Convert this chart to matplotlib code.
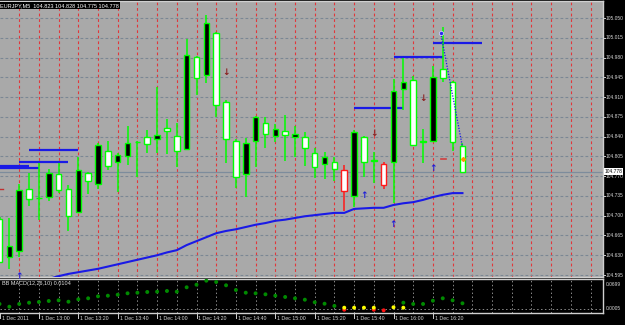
import matplotlib
matplotlib.use('Agg')
import matplotlib.pyplot as plt
from matplotlib.patches import Rectangle

# ---------------- data ----------------
header = "EURJPY,M5  104.823 104.828 104.775 104.778"
opens = [104.694, 104.627, 104.637, 104.747, 104.731, 104.733, 104.774, 104.747, 104.707, 104.776,
         104.756, 104.815, 104.795, 104.806, 104.830, 104.839, 104.836, 104.855, 104.841, 104.818,
         104.981, 104.949, 105.024, 104.901, 104.832, 104.774, 104.832, 104.864, 104.841, 104.850,
         104.839, 104.839, 104.811, 104.792, 104.795, 104.781, 104.735, 104.839, 104.798, 104.792,
         104.795, 104.924, 104.940, 104.832, 104.832, 104.960, 104.937, 104.823]
highs = [104.698, 104.696, 104.756, 104.776, 104.793, 104.783, 104.793, 104.754, 104.804, 104.777,
         104.829, 104.832, 104.811, 104.859, 104.832, 104.852, 104.928, 104.871, 104.864, 105.013,
         104.983, 105.055, 105.025, 104.905, 104.836, 104.838, 104.877, 104.875, 104.862, 104.878,
         104.859, 104.848, 104.820, 104.813, 104.804, 104.790, 104.852, 104.841, 104.813, 104.795,
         104.942, 104.979, 104.947, 104.854, 104.965, 105.034, 104.938, 104.828]
lows = [104.616, 104.606, 104.627, 104.717, 104.692, 104.726, 104.740, 104.673, 104.705, 104.738,
        104.747, 104.781, 104.742, 104.790, 104.768, 104.811, 104.811, 104.809, 104.786, 104.816,
        104.914, 104.935, 104.875, 104.793, 104.749, 104.733, 104.786, 104.820, 104.830, 104.797,
        104.804, 104.788, 104.767, 104.765, 104.761, 104.708, 104.715, 104.768, 104.758, 104.747,
        104.723, 104.887, 104.823, 104.793, 104.830, 104.937, 104.815, 104.775]
closes = [104.618, 104.646, 104.745, 104.730, 104.731, 104.776, 104.745, 104.699, 104.781, 104.761,
          104.825, 104.788, 104.807, 104.829, 104.830, 104.827, 104.843, 104.850, 104.815, 104.985,
          104.944, 105.041, 104.896, 104.836, 104.768, 104.829, 104.875, 104.845, 104.854, 104.843,
          104.845, 104.820, 104.786, 104.804, 104.783, 104.744, 104.848, 104.795, 104.797, 104.754,
          104.921, 104.937, 104.825, 104.830, 104.946, 104.944, 104.830, 104.778]
painted_red = [35, 39]

ma_start = 4
ma_values = [104.583, 104.588, 104.593, 104.597, 104.600, 104.603, 104.606, 104.610, 104.614, 104.618,
             104.622, 104.626, 104.630, 104.635, 104.639, 104.648, 104.655, 104.662, 104.669, 104.673,
             104.676, 104.680, 104.684, 104.687, 104.691, 104.693, 104.696, 104.699, 104.701, 104.703,
             104.705, 104.705, 104.712, 104.713, 104.714, 104.714, 104.719, 104.722, 104.724, 104.728,
             104.733, 104.737, 104.740, 104.740]

# horizontal level segments: (start bar, end bar, price)
level_start = [-1, -1, 2, 3, 36, 40, 44]
level_end = [3, 4, 7, 8, 41, 45, 49]
level_price = [104.788, 104.784, 104.795, 104.816, 104.891, 104.981, 105.006]

down_arrow_bars = [23, 38, 43]
down_arrow_prices = [104.954, 104.846, 104.907]
up_arrow_bars = [2, 37, 40, 44]
up_arrow_prices = [104.593, 104.735, 104.684, 104.784]

zigzag_bars = [44.8, 47]
zigzag_prices = [105.023, 104.822]

price_levels = [104.595, 104.630, 104.665, 104.700, 104.735, 104.770, 104.805,
                104.840, 104.875, 104.910, 104.945, 104.980, 105.015, 105.050]
last_price = 104.778

time_label_bars = [0, 4, 8, 12, 16, 20, 24, 28, 32, 36, 40, 44]
time_labels = ["1 Dec 2011", "1 Dec 13:00", "1 Dec 13:20", "1 Dec 13:40", "1 Dec 14:00",
               "1 Dec 14:20", "1 Dec 14:40", "1 Dec 15:00", "1 Dec 15:20", "1 Dec 15:40",
               "1 Dec 16:00", "1 Dec 16:20"]

macd_values = [0.0118, 0.0050, 0.0118, 0.0150, 0.0168, 0.0193, 0.0210, 0.0175, 0.0235, 0.0260,
               0.0310, 0.0325, 0.0350, 0.0385, 0.0400, 0.0418, 0.0425, 0.0443, 0.0425, 0.0535,
               0.0600, 0.0700, 0.0668, 0.0585, 0.0468, 0.0400, 0.0385, 0.0360, 0.0325, 0.0293,
               0.0260, 0.0225, 0.0160, 0.0125, 0.0070, 0.0025, 0.0025, 0.0025, 0.0025, -0.0040,
               0.0035, 0.0150, 0.0118, 0.0118, 0.0200, 0.0260, 0.0210, 0.0135]
macd_colors = ['g'] * 35 + ['y', 'y', 'y', 'y', 'r', 'y'] + ['g'] * 7
extra_bars = [35, 38, 41]
extra_values = [-0.0025, -0.0025, 0.0025]
extra_colors = ['r', 'r', 'y']

# ---------------- figure ----------------
W, H = 625, 325
FONT = 'Liberation Sans'
fig = plt.figure(figsize=(6.25, 3.25), dpi=100, facecolor='black')
px_per_bar = 9.85
xlo, xhi = 0.5 / px_per_bar, 603.5 / px_per_bar

ax = fig.add_axes([0, 48 / H, 603 / W, 276 / H])
ax.set_facecolor('#a9a9a9')
ax.set_xlim(xlo, xhi)
ax.set_ylim(104.5915, 105.0801)
ax.set_xticks([]); ax.set_yticks([])
for s in ax.spines.values():
    s.set_color('#d0d0d0'); s.set_linewidth(1.0)
ax.spines['left'].set_visible(False)

# grid
for k in range(2, 62, 2):
    ax.axvline(k, color='#e2363a', lw=0.8, ls=(0, (2.5, 2.5)), zorder=1)
for p in price_levels:
    ax.axhline(p, color='#7b8794', lw=0.8, ls=(0, (2.5, 2.0)), zorder=1)
ax.axhline(last_price, color='#7d8c9c', lw=0.9, zorder=1.5)

# MA
ma_x = list(range(ma_start, ma_start + len(ma_values)))
ax.plot(ma_x, ma_values, color='#1a1ae6', lw=1.5, zorder=3)

# levels
for a, b, p in zip(level_start, level_end, level_price):
    ax.plot([a, b], [p, p], color='#1a1ae6', lw=1.6, zorder=3, solid_capstyle='butt')

# candles
bw = 0.56
for k, (o, h, l, c) in enumerate(zip(opens, highs, lows, closes)):
    red = k in painted_red
    edge = '#ff1a1a' if red else '#00ff00'
    ax.plot([k, k], [l, h], color=edge, lw=1.1, zorder=4, solid_capstyle='butt')
    fill = 'black' if (c > o and not red) else 'white'
    lo_b, hi_b = min(o, c), max(o, c)
    ax.add_patch(Rectangle((k - bw / 2, lo_b), bw, max(hi_b - lo_b, 0.0001),
                           facecolor=fill, edgecolor=edge, lw=1.0, zorder=5))

# zigzag line
ax.plot(zigzag_bars, zigzag_prices, color='#1a1ae6', lw=0.9, ls=(0, (1, 1.2)), zorder=6)
ax.plot(zigzag_bars[0], zigzag_prices[0], 'o', ms=3, color='#2a2af0', mec='#e0e0ff', mew=0.5, zorder=7)

# arrows
for k, p in zip(down_arrow_bars, down_arrow_prices):
    ax.text(k, p, '↓', color='#8b1e1e', fontsize=6.5, fontweight='bold', ha='center', va='center', zorder=7)
for k, p in zip(up_arrow_bars, up_arrow_prices):
    ax.text(k, p, '↑', color='#1e1ed8', fontsize=6.5, fontweight='bold', ha='center', va='center', zorder=7)
ax.plot([44.8, 45.3], [104.800, 104.800], color='#d04040', lw=1.2, zorder=6)
ax.plot([47.1], [104.800], marker='D', ms=2, color='#ff9900', zorder=8)
ax.plot([0.05, 0.35], [104.747, 104.747], color='#c03030', lw=1.0, zorder=6)

# right price axis
ytr = ax.get_yaxis_transform()
for p in price_levels:
    ax.plot([1.0, 1.0 + 2 / 603], [p, p], color='#d0d0d0', lw=0.7, transform=ytr, clip_on=False)
    ax.text(1.0 + 3 / 603, p, f"{p:.3f}", transform=ytr, color='#d8d8d8', fontsize=3.5,
            family=FONT, ha='left', va='center')
ax.text(1.0 + 1.5 / 603, last_price, f"{last_price:.3f}", transform=ytr, color='black', fontsize=3.5,
        family=FONT, ha='left', va='center', zorder=10,
        bbox=dict(boxstyle='square,pad=0.15', facecolor='white', edgecolor='none'))

# header
ax.text(0.0, 1 - 4.5 / 276, header, transform=ax.transAxes, color='white', fontsize=4.0,
        family=FONT, ha='left', va='center', zorder=10,
        bbox=dict(boxstyle='square,pad=0.2', facecolor='black', edgecolor='none'))

# ---------------- MACD sub-window ----------------
ax2 = fig.add_axes([0, 12 / H, 603 / W, 34 / H])
ax2.set_facecolor('black')
ax2.set_xlim(xlo, xhi)
ax2.set_ylim(-0.01075, 0.07425)
ax2.set_xticks([]); ax2.set_yticks([])
for s in ax2.spines.values():
    s.set_color('#d0d0d0'); s.set_linewidth(1.0)
ax2.spines['left'].set_visible(False)
for k in range(2, 62, 2):
    ax2.axvline(k, color='#8a8a8a', lw=0.7, ls=(0, (1.5, 2.5)), zorder=1)
ax2.axhline(0.0, color='#8a8a8a', lw=0.7, ls=(0, (1.5, 2.5)), zorder=1)

cmap = {'g': '#008a00', 'y': '#ffff00', 'r': '#ff1010'}
ax2.scatter(extra_bars, extra_values, s=8, c=[cmap[c] for c in extra_colors], zorder=3, linewidths=0)
ax2.scatter(range(len(macd_values)), macd_values, s=8, c=[cmap[c] for c in macd_colors], zorder=4,
            linewidths=0)

ax2.text(2 / 603, (313 - 284) / 34, "BB MACD(12,26,10) 0.0104", transform=ax2.transAxes,
         color='#e0e0e0', fontsize=4.0, family=FONT, ha='left', va='center')
ax2.text(1.0 + 3 / 603, (313 - 284) / 34, "0.0699", transform=ax2.transAxes, color='#d8d8d8',
         fontsize=3.5, family=FONT, ha='left', va='center')
ax2.text(1.0 + 3 / 603, (313 - 309) / 34, "0.0005", transform=ax2.transAxes, color='#d8d8d8',
         fontsize=3.5, family=FONT, ha='left', va='center')

xtr = ax2.get_xaxis_transform()
for k, lab in zip(time_label_bars, time_labels):
    ax2.plot([k, k], [0, -5 / 34], color='#d0d0d0', lw=0.7, transform=xtr, clip_on=False)
    ax2.text(k + 2 / px_per_bar, -6 / 34, lab, transform=xtr, color='#d8d8d8', fontsize=3.8,
             family=FONT, ha='left', va='center')

fig.savefig('out.png', dpi=100, facecolor='black')
